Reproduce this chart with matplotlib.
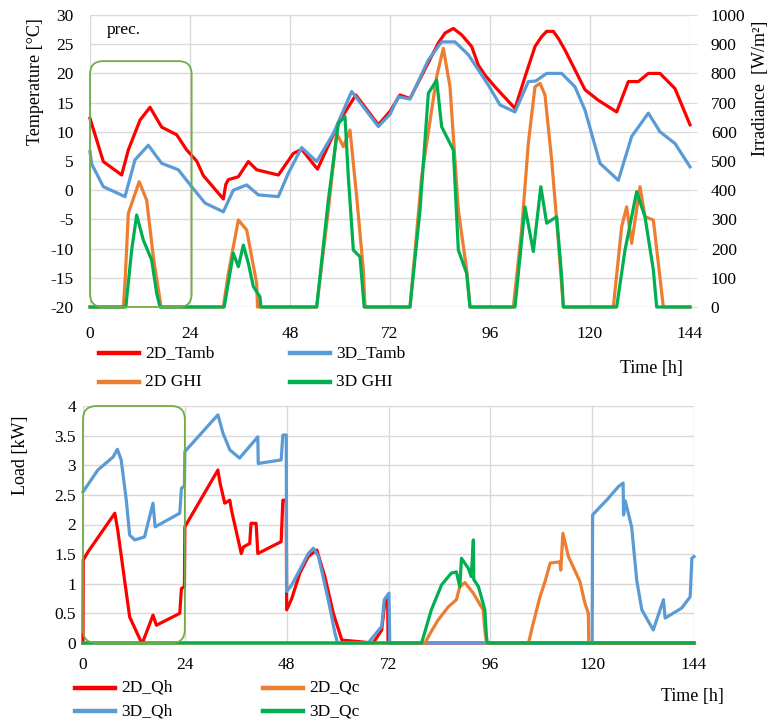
import matplotlib
matplotlib.use("Agg")
import matplotlib.pyplot as plt
from matplotlib.patches import FancyBboxPatch
from matplotlib.lines import Line2D

plt.rcParams['font.family'] = ['Liberation Serif', 'DejaVu Serif']
plt.rcParams['axes.unicode_minus'] = False

# ---------------- data: ambient temperature [°C] ----------------
t_tamb_2d = [0, 3.2, 7.6, 9.2, 12, 14.4, 17.2, 20.8, 23.2, 25.6, 27.2, 32, 32.6, 33.2, 35.6,
             38, 40, 45.2, 48.8, 50.8, 54.6, 60, 63.8, 69.2, 72, 74.4, 76.8, 83.6, 85.2,
             87.2, 89.2, 91.6, 93.2, 94.8, 97.2, 102, 104.4, 106.8, 108.4, 109.6, 111.2,
             112.4, 114, 118.8, 122, 126.4, 129.2, 131.6, 134, 136.8, 140.4, 144]
tamb_2d = [12.3, 4.9, 2.6, 6.9, 12, 14.2, 10.8, 9.5, 6.9, 5.0, 2.5, -1.5, 1.0, 1.8, 2.3,
           4.9, 3.5, 2.6, 6.3, 7.0, 3.6, 12, 16.3, 11.2, 13.5, 16.3, 15.7, 25.2, 26.9,
           27.7, 26.6, 24.6, 21.4, 19.7, 17.7, 14, 19.4, 24.6, 26.3, 27.2, 27.2,
           26, 24, 17.2, 15.4, 13.4, 18.6, 18.6, 20, 20, 17.4, 11.2]

t_tamb_3d = [0, 0.4, 3.2, 8.4, 10.8, 14, 17.2, 21.2, 24.4, 27.6, 32, 34.4, 37.6, 40.4, 45.2,
             47.6, 50.8, 54.4, 58.4, 62.8, 69.2, 72, 74, 76.8, 81.2, 84.4, 87.6, 90.8, 95.6,
             98.4, 102, 105.2, 107, 109.6, 113.2, 116.4, 118.8, 122.4, 126.8, 130, 134,
             136.8, 140.4, 144]
tamb_3d = [6.6, 4.5, 0.6, -1.1, 5.2, 7.7, 4.6, 3.5, 0.6, -2.2, -3.7, 0, 0.9, -0.8, -1.1,
           2.9, 7.3, 4.9, 9.7, 16.9, 10.9, 13, 16, 15.6, 22.3, 25.4, 25.4, 23.2, 18,
           14.6, 13.4, 18.6, 18.7, 20, 20, 17.7, 13.7, 4.6, 1.7, 9.2, 13.2,
           10, 8, 4]

# ---------------- data: global horizontal irradiance [W/m2] ----------------
t_ghi_2d = [0, 8, 8.4, 9.2, 11.8, 13.6, 15.2, 16.8, 17, 32, 33.2, 35.6, 37.6, 40, 40.2,
            54.4, 57.2, 59.2, 60.8, 62.4, 64, 65.6, 66, 76.8, 79.6, 83.2, 84.8, 86.4, 88.4,
            90.4, 91.2, 101.6, 103.6, 105.2, 106.8, 108, 109.2, 110.8, 112, 113.6, 125.6,
            127.6, 128.8, 130, 132, 133.2, 135.2, 136.4, 137.6, 144]
ghi_2d = [0, 0, 82, 321, 429, 366, 172, 24, 0, 0, 115, 298, 264, 81, 0,
          0, 332, 595, 549, 606, 378, 127, 0, 0, 446, 789, 886, 754, 332,
          127, 0, 0, 264, 561, 754, 766, 726, 503, 298, 0, 0,
          275, 343, 218, 412, 309, 298, 150, 0, 0]

t_ghi_3d = [0, 8.6, 10, 11.2, 12.8, 14.8, 16, 16.8, 32.2, 34.4, 35.6, 36.8, 38, 39.2, 40.8,
            41, 54.4, 57.2, 59.6, 61.2, 62, 63.2, 64.8, 65.8, 76.8, 79.2, 81.2, 83.2, 84.4,
            87.2, 88.4, 90.4, 91.2, 102, 104.4, 106.4, 108.2, 109.6, 112, 113.2, 113.6,
            126.4, 128.4, 131.2, 133.2, 135.2, 136, 144]
ghi_3d = [0, 0, 195, 315, 229, 161, 47, 0, 0, 184, 138, 212, 150, 70, 35,
          0, 0, 366, 629, 652, 446, 195, 172, 0, 0, 332, 732, 777, 617,
          538, 195, 115, 0, 0, 343, 190, 412, 287, 309, 104, 0,
          0, 195, 395, 309, 127, 0, 0]

# ---------------- data: heating / cooling load [kW] ----------------
t_qh_2d = [0, 0.05, 1.2, 7.5, 8.2, 9.8, 11, 13.7, 14, 16.5, 17.3, 22.8, 23.2, 23.9, 24,
           31.8, 32.3, 33.4, 34.6, 35, 37.3, 37.8, 39.3, 39.6, 40.8, 41.2, 46.7, 47.1,
           47.9, 48, 49.2, 51.1, 53.1, 55.1, 57, 59, 61, 68.4, 70.4, 71.2, 71.8, 71.9, 144]
qh_2d = [0, 1.4, 1.54, 2.19, 1.9, 1.06, 0.44, 0.02, 0, 0.47, 0.3, 0.5, 0.92, 0.95, 1.96,
         2.92, 2.7, 2.36, 2.41, 2.24, 1.51, 1.62, 1.68, 2.02, 2.02, 1.51, 1.71, 2.41,
         2.41, 0.56, 0.75, 1.18, 1.46, 1.57, 1.12, 0.5, 0.05, 0, 0.22, 0.73, 0.73, 0, 0]

t_qh_3d = [0, 3.5, 7.1, 8.1, 9, 10.2, 11, 12.2, 14.5, 16.5, 17, 22.8, 23.2, 23.9, 24,
           31.4, 31.8, 33, 34.6, 36.9, 41.2, 41.3, 46.7, 47.1, 47.9, 48, 49.2, 51.5, 53.1,
           54.3, 55.5, 57.8, 59.4, 60, 67.2, 70.4, 71, 72.1, 72.3, 120, 120.1, 121.9, 123.4,
           126.2, 127.3, 127.4, 127.8, 129.3, 130.5, 131.7, 134.4, 136.8, 137.2, 141.1,
           143.1, 143.5, 144]
qh_3d = [2.55, 2.92, 3.14, 3.27, 3.09, 2.41, 1.82, 1.74, 1.79, 2.36, 1.96, 2.19, 2.61,
         2.65, 3.23, 3.82, 3.85, 3.54, 3.26, 3.12, 3.48, 3.03, 3.09, 3.51, 3.51, 0.87,
         0.98, 1.29, 1.51, 1.6, 1.46, 0.73, 0.16, 0, 0, 0.28, 0.73, 0.84, 0, 0, 2.16, 2.3,
         2.41, 2.64, 2.7, 2.16, 2.4, 1.96, 1.06, 0.56, 0.22, 0.73, 0.42, 0.59, 0.78,
         1.43, 1.46]

t_qc_2d = [0, 80.6, 81.8, 83.7, 86.1, 88, 88.8, 90, 92, 94.3, 94.7, 95.1, 105, 106.1, 107.7,
           108.9, 110.1, 112.4, 112.6, 113.1, 114.4, 117.1, 118.3, 119.1, 119.2, 144]
qc_2d = [0, 0, 0.16, 0.39, 0.61, 0.73, 0.95, 1.02, 0.84, 0.56, 0.22, 0, 0, 0.33, 0.78,
         1.04, 1.35, 1.37, 1.23, 1.85, 1.46, 1.04, 0.67, 0.5, 0, 0]

t_qc_3d = [0, 79.8, 82.1, 84.5, 86.8, 88, 88.8, 89.2, 90.8, 91.5, 92, 92.1, 93.2, 94.7,
           95.1, 95.3, 144]
qc_3d = [0, 0, 0.56, 0.98, 1.18, 1.2, 0.95, 1.43, 1.26, 1.12, 1.74, 1.07, 0.95, 0.56,
         0.1, 0, 0]

hour_ticks = [0, 24, 48, 72, 96, 120, 144]

RED = '#FF0000'
BLUE = '#5B9BD5'
ORANGE = '#ED7D31'
GREEN = '#00B050'
GRID = '#D9D9D9'
BOX = '#70AD47'
LW = 2.3
FS = 12.5

W, H = 769, 722
fig = plt.figure(figsize=(W / 100, H / 100), dpi=100)


def px_rect(x0, y0, x1, y1):
    return [x0 / W, 1 - y1 / H, (x1 - x0) / W, (y1 - y0) / H]


def style_axis(ax):
    for s in ax.spines.values():
        s.set_visible(False)
    ax.grid(True, color=GRID, linewidth=1.0)
    ax.set_axisbelow(True)
    ax.tick_params(length=0, labelsize=FS)


def rounded_box(ax, x1, y1, ax_w, ax_h):
    box = FancyBboxPatch((0, 0), x1, y1, transform=ax.transAxes,
                         boxstyle="round,pad=0,rounding_size=0.022",
                         mutation_aspect=ax_w / ax_h,
                         facecolor='none', edgecolor=BOX, linewidth=1.3,
                         clip_on=False, zorder=6)
    ax.add_patch(box)


def legend_entry(x, y, color, label):
    fig.add_artist(Line2D([x / W, (x + 40) / W], [1 - y / H, 1 - y / H],
                          transform=fig.transFigure, color=color, linewidth=3.2))
    fig.text((x + 46) / W, 1 - y / H, label, fontsize=FS, va='center', ha='left')


# ---------------- top panel: temperature + irradiance ----------------
ax1 = fig.add_axes(px_rect(90, 15, 690, 307))
style_axis(ax1)
ax1.plot(t_tamb_2d, tamb_2d, color=RED, linewidth=LW, clip_on=False, zorder=3)
ax1.plot(t_tamb_3d, tamb_3d, color=BLUE, linewidth=LW, clip_on=False, zorder=4)
ax1.set_xlim(0, 144)
ax1.set_ylim(-20, 30)
ax1.set_xticks(hour_ticks)
ax1.set_yticks(range(-20, 31, 5))
ax1.tick_params(axis='x', pad=14)
ax1.tick_params(axis='y', pad=12)

ax2 = ax1.twinx()
for s in ax2.spines.values():
    s.set_visible(False)
ax2.plot(t_ghi_2d, ghi_2d, color=ORANGE, linewidth=LW, clip_on=False)
ax2.plot(t_ghi_3d, ghi_3d, color=GREEN, linewidth=LW, clip_on=False)
ax2.set_ylim(0, 1000)
ax2.set_yticks(range(0, 1001, 100))
ax2.tick_params(axis='y', length=5, color=GRID, labelsize=FS, pad=10)

rounded_box(ax2, 24.4 / 144, 42.1 / 50, 600, 292)
ax1.text(4.1, 27.5, 'prec.', fontsize=FS, ha='left', va='center')

fig.text(35 / W, 1 - 82 / H, 'Temperature [°C]', rotation=90, fontsize=FS + 0.5,
         ha='center', va='center')
fig.text(760 / W, 1 - 88 / H, 'Irradiance  [W/m²]', rotation=90, fontsize=FS + 0.5,
         ha='center', va='center')

legend_entry(99, 353, RED, '2D_Tamb')
legend_entry(290, 353, BLUE, '3D_Tamb')
legend_entry(99, 382, ORANGE, '2D GHI')
legend_entry(290, 382, GREEN, '3D GHI')
fig.text(651 / W, 1 - 368 / H, 'Time [h]', fontsize=FS + 0.5, ha='center', va='center')

# ---------------- bottom panel: loads ----------------
ax3 = fig.add_axes(px_rect(83, 406, 694, 643))
style_axis(ax3)
ax3.plot(t_qh_2d, qh_2d, color=RED, linewidth=LW, clip_on=False, zorder=3)
ax3.plot(t_qh_3d, qh_3d, color=BLUE, linewidth=LW, clip_on=False, zorder=4)
ax3.plot(t_qc_2d, qc_2d, color=ORANGE, linewidth=LW, clip_on=False, zorder=5)
ax3.plot(t_qc_3d, qc_3d, color=GREEN, linewidth=LW, clip_on=False, zorder=5)
ax3.set_xlim(0, 144)
ax3.set_ylim(0, 4)
ax3.set_xticks(hour_ticks)
ax3.set_yticks([0, 0.5, 1, 1.5, 2, 2.5, 3, 3.5, 4])
ax3.set_yticklabels(['0', '0.5', '1', '1.5', '2', '2.5', '3', '3.5', '4'])
ax3.tick_params(axis='x', pad=10)
ax3.tick_params(axis='y', pad=5)
rounded_box(ax3, 24 / 144, 1.0, 611, 237)

fig.text(20 / W, 1 - 455 / H, 'Load [kW]', rotation=90, fontsize=FS + 0.5,
         ha='center', va='center')

legend_entry(75, 688, RED, '2D_Qh')
legend_entry(263, 688, ORANGE, '2D_Qc')
legend_entry(75, 711, BLUE, '3D_Qh')
legend_entry(263, 711, GREEN, '3D_Qc')
fig.text(692 / W, 1 - 697 / H, 'Time [h]', fontsize=FS + 0.5, ha='center', va='center')

fig.savefig('out.png', dpi=100)
